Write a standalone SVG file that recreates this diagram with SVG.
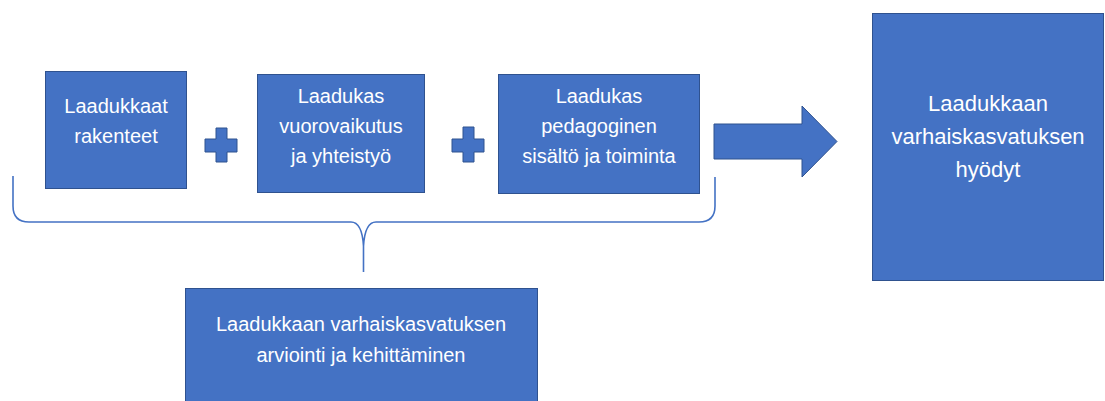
<svg xmlns="http://www.w3.org/2000/svg" width="1105" height="401" viewBox="0 0 1105 401">
<style>
.box{fill:#4472C4;stroke:#2F528F;stroke-width:1}
.t{font-family:"Liberation Sans",Arial,sans-serif;font-size:20px;fill:#FFFFFF;text-anchor:middle}
.tb{font-size:22px}
.brace{fill:none;stroke:#4472C4;stroke-width:1.6}
</style>
<rect width="1105" height="401" fill="#FFFFFF"/>
<g id="node-rakenteet">
<rect class="box" x="45.5" y="71.5" width="141" height="117"/>
<text class="t" x="116" y="113">Laadukkaat</text>
<text class="t" x="116" y="143">rakenteet</text>
</g>
<g id="node-vuorovaikutus">
<rect class="box" x="257.5" y="74.5" width="167" height="118"/>
<text class="t" x="341" y="103">Laadukas</text>
<text class="t" x="341" y="133">vuorovaikutus</text>
<text class="t" x="341" y="163">ja yhteistyö</text>
</g>
<g id="node-sisalto">
<rect class="box" x="498.5" y="74.5" width="201" height="119"/>
<text class="t" x="599" y="103">Laadukas</text>
<text class="t" x="599" y="133">pedagoginen</text>
<text class="t" x="599" y="163">sisältö ja toiminta</text>
</g>
<g id="node-hyodyt">
<rect class="box" x="872.5" y="13.5" width="231" height="267"/>
<text class="t tb" x="988" y="111">Laadukkaan</text>
<text class="t tb" x="988" y="144">varhaiskasvatuksen</text>
<text class="t tb" x="988" y="177">hyödyt</text>
</g>
<g id="node-arviointi">
<rect class="box" x="185.5" y="288.5" width="352" height="120"/>
<text class="t" x="361" y="331">Laadukkaan varhaiskasvatuksen</text>
<text class="t" x="361" y="362">arviointi ja kehittäminen</text>
</g>
<g id="connectors">
<path class="box" d="M216,128 H227 V139 H237 V152 H227 V162 H216 V152 H205 V139 H216 Z"/>
<path class="box" d="M463,127 H474 V139 H484 V152 H474 V162 H463 V152 H452 V139 H463 Z"/>
<path class="box" d="M714,124 H802 V106 L837,141.5 L802,177 V159 H714 Z"/>
<path class="brace" d="M13,176 L13,206 Q13,222 29,222 L351,222 Q362,222 363.5,246 L363.5,272 M363.5,246 Q365,222 376,222 L699,222 Q715,222 715,206 L715,177"/>
</g>
</svg>
